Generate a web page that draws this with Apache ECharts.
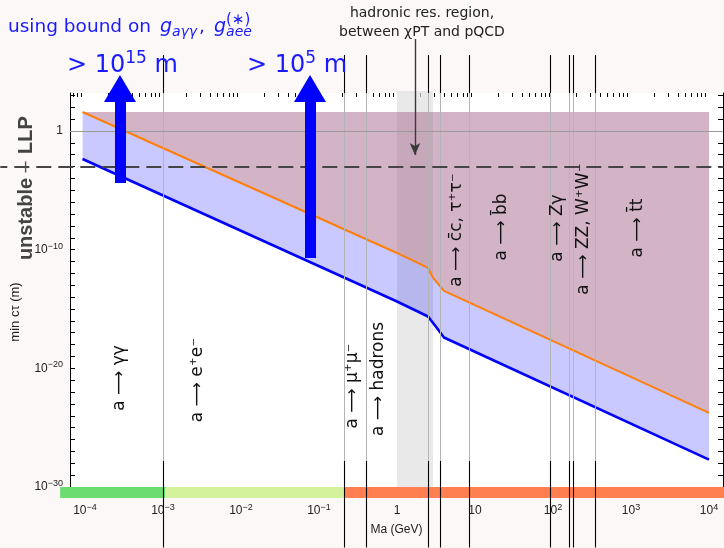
<!DOCTYPE html>
<html><head><meta charset="utf-8">
<script src="https://cdn.jsdelivr.net/npm/echarts@6/dist/echarts.min.js"></script>
<style>html,body{margin:0;padding:0;background:#fcf8f7;}#c{width:724px;height:548px;}</style>
</head><body><div id="c"></div>
<script>
// ---------------- data ----------------
const massDecades = [1e-4, 1e-3, 1e-2, 1e-1, 1, 10, 100, 1000, 1e4];
const massMinorTicks = [];
for (let k = -5; k <= 4; k++) for (let j = 2; j <= 9; j++) massMinorTicks.push(j * Math.pow(10, k));
const ctauLabelValues = [1e-30, 1e-20, 1e-10, 1];
const ctauTickValues = [];
for (let k = -30; k <= 3; k++) ctauTickValues.push(Math.pow(10, k));

// lower bound (blue) and upper bound (orange) on min c*tau (m) vs Ma (GeV)
const blueMass  = [9.3e-5, 1, 2.5, 3.16, 4.0, 1e4];
const blueCtau  = [4.37e-3, 4.27e-15, 2.34e-16, 3.16e-17, 3.98e-18, 2.0e-28];
const orangeMass = [9.3e-5, 1, 2.5, 2.9, 4.0, 1e4];
const orangeCtau = [39.8, 5.25e-11, 2.88e-12, 4.17e-13, 3.31e-14, 1.74e-24];
const bandTopCtau = 39.8;

// decay thresholds (GeV)
const thresholdMass = [1.022e-3, 0.2113, 0.405, 2.5, 3.55, 8.36, 91.19, 160.8, 182.4, 346];
const hadronicRange = [1.0, 2.9];
const llpCtau = 1e-3;
const refCtau = 1;
const regimeRanges = [[4.8e-5, 1.07e-3], [1.07e-3, 0.2113], [0.2113, 1.6e4]];
const arrowMass = [2.81e-4, 0.0767];
const arrowFromCtau = [4.13e-5, 2.0e-11];
const arrowLabels = ['> 10{p|15} m', '> 10{p|5} m'];
const hadronArrowMass = 1.70;

const decayLabels = ['a ⟶ γγ', 'a ⟶ e⁺e⁻', 'a ⟶ μ⁺μ⁻', 'a ⟶ hadrons', 'a ⟶ c̄c, τ⁺τ⁻', 'a ⟶ b̄b', 'a ⟶ Zγ', 'a ⟶ ZZ, W⁺W⁻', 'a ⟶ t̄t'];

// ---------------- layout ----------------
const W = 724, H = 548;
const G = {left: 70, right: 1, top: 93, bottom: 61};
const XE = [-4.1923, 4.1795];      // log10 mass extent of plot
const YE = [-30, 3.2];             // log10 ctau extent of plot
const pxX = (W - G.left - G.right) / (XE[1] - XE[0]);
const pxY = (H - G.top - G.bottom) / (YE[1] - YE[0]);
const OXE = [XE[0] - G.left / pxX, XE[1] + G.right / pxX];
const OYE = [YE[0] - G.bottom / pxY, YE[1] + G.top / pxY];
const P = e => Math.pow(10, e);
const ctAtY = y => P(OYE[1] - y / pxY);     // overlay ctau at a pixel row
const mAtX = x => P(OXE[0] + x / pxX);      // overlay mass at a pixel column

const colors = {
  blue: '#0000ff', orange: '#ff7f0a',
  blueFill: 'rgba(0,0,255,0.21)', orangeFill: 'rgba(232,140,92,0.34)',
  regimes: ['#6ddc70', '#d4f29b', '#ff7f50']
};
const FONT = 'DejaVu Sans';
const AFONT = 'Liberation Sans';
const BLUE_TXT = '#1a1aff';

function powLabel(v) {
  const e = Math.round(Math.log10(v));
  if (e === 0) return '1';
  if (e === 1) return '10';
  return '{b|10}{e|' + (e < 0 ? '−' : '') + Math.abs(e) + '}';
}
const axRich = {
  b: {fontSize: 12, lineHeight: 16, fontFamily: AFONT, color: '#222'},
  e: {fontSize: 9, lineHeight: 8, verticalAlign: 'top', fontFamily: AFONT, color: '#222'}
};

const chart = echarts.init(document.getElementById('c'));

const topSeg = [ctAtY(55), P(YE[1])];
const midSeg = [P(YE[1]), ctAtY(461)];
const botSeg = [ctAtY(461), ctAtY(547.5)];

const decayPos = [[120, 378], [198, 380], [353, 386], [379, 379], [457, 230], [502, 227], [558, 228], [584, 229], [638, 228]];

const option = {
  backgroundColor: '#fcf8f7',
  animation: false,
  grid: [
    {left: G.left, right: G.right, top: G.top, bottom: G.bottom, show: true, backgroundColor: '#ffffff', borderWidth: 0},
    {left: 0, right: 0, top: 0, bottom: 0}
  ],
  xAxis: [
    {gridIndex: 0, type: 'log', position: 'bottom', min: P(XE[0]), max: P(XE[1]),
     axisLine: {show: false}, axisTick: {show: false}, splitLine: {show: false},
     axisLabel: {customValues: massDecades, formatter: powLabel, rich: axRich, margin: 16,
                 fontFamily: AFONT, fontSize: 12, lineHeight: 16, color: '#222'},
     name: 'Ma (GeV)', nameLocation: 'middle', nameGap: 33,
     nameTextStyle: {fontFamily: AFONT, fontSize: 12, color: '#222'}},
    {gridIndex: 0, type: 'log', position: 'top', min: P(XE[0]), max: P(XE[1]),
     axisLine: {show: true, lineStyle: {color: '#000', width: 1}},
     axisTick: {show: true, inside: true, length: 7, customValues: massDecades, lineStyle: {color: '#000'}},
     axisLabel: {show: false}, splitLine: {show: false}},
    {gridIndex: 0, type: 'log', position: 'top', min: P(XE[0]), max: P(XE[1]),
     axisLine: {show: false},
     axisTick: {show: true, inside: true, length: 4, customValues: massMinorTicks, lineStyle: {color: '#000'}},
     axisLabel: {show: false}, splitLine: {show: false}},
    {gridIndex: 1, type: 'log', min: P(OXE[0]), max: P(OXE[1]), show: false}
  ],
  yAxis: [
    {gridIndex: 0, type: 'log', position: 'left', min: P(YE[0]), max: P(YE[1]),
     axisLine: {show: true, lineStyle: {color: '#000', width: 1}},
     axisTick: {show: true, inside: true, length: 5, customValues: ctauTickValues, lineStyle: {color: '#000'}},
     axisLabel: {customValues: ctauLabelValues, formatter: powLabel, rich: axRich, margin: 7,
                 fontFamily: AFONT, fontSize: 12, lineHeight: 16, color: '#222'},
     splitLine: {show: false}},
    {gridIndex: 0, type: 'log', position: 'right', min: P(YE[0]), max: P(YE[1]),
     axisLine: {show: true, lineStyle: {color: '#000', width: 1}},
     axisTick: {show: true, inside: true, length: 5, customValues: ctauTickValues, lineStyle: {color: '#000'}},
     axisLabel: {show: false}, splitLine: {show: false}},
    {gridIndex: 1, type: 'log', min: P(OYE[0]), max: P(OYE[1]), show: false}
  ],
  series: [
    {name: 'regimes', type: 'line', xAxisIndex: 3, yAxisIndex: 2, data: [], z: 1, silent: true,
     markArea: {silent: true, label: {show: false},
       data: regimeRanges.map((r, i) => [
         {coord: [r[0], P(YE[0])], itemStyle: {color: colors.regimes[i]}},
         {coord: [r[1], ctAtY(498)]}])}},
    {name: 'thresholdsInner', type: 'line', xAxisIndex: 3, yAxisIndex: 2, data: [], z: 1, silent: true,
     markLine: {silent: true, symbol: ['none', 'none'], label: {show: false},
       lineStyle: {color: '#b4b4b4', width: 1, type: 'solid'},
       data: thresholdMass.map(m => [{coord: [m, midSeg[0]]}, {coord: [m, midSeg[1]]}])}},
    {name: 'ref', type: 'line', xAxisIndex: 0, yAxisIndex: 0, data: [], z: 1, silent: true,
     markLine: {silent: true, symbol: ['none', 'none'], label: {show: false},
       lineStyle: {color: '#9a9a9a', width: 1, type: 'solid'}, data: [{yAxis: refCtau}]}},
    {name: 'lower', type: 'line', xAxisIndex: 0, yAxisIndex: 0, z: 2, showSymbol: false, silent: true,
     data: blueMass.map((m, i) => [m, blueCtau[i]]),
     lineStyle: {color: colors.blue, width: 2.6},
     areaStyle: {color: colors.blueFill, origin: bandTopCtau, opacity: 1}},
    {name: 'upper', type: 'line', xAxisIndex: 0, yAxisIndex: 0, z: 2, showSymbol: false, silent: true,
     data: orangeMass.map((m, i) => [m, orangeCtau[i]]),
     lineStyle: {color: colors.orange, width: 2},
     areaStyle: {color: colors.orangeFill, origin: bandTopCtau, opacity: 1}},
    {name: 'thresholdsOuter', type: 'line', xAxisIndex: 3, yAxisIndex: 2, data: [], z: 3, silent: true,
     markLine: {silent: true, symbol: ['none', 'none'], label: {show: false},
       lineStyle: {color: '#000', width: 1.1, type: 'solid'},
       data: thresholdMass.map(m => [{coord: [m, topSeg[0]]}, {coord: [m, topSeg[1]]}])
         .concat(thresholdMass.map(m => [{coord: [m, botSeg[0]]}, {coord: [m, botSeg[1]]}]))}},
    {name: 'hadronic', type: 'line', xAxisIndex: 3, yAxisIndex: 2, data: [], z: 4, silent: true,
     markArea: {silent: true, label: {show: false}, itemStyle: {color: 'rgba(224,224,224,0.7)'},
       data: [[{coord: [hadronicRange[0], ctAtY(91)]}, {coord: [hadronicRange[1], P(YE[0])]}]]}},
    {name: 'llp', type: 'line', xAxisIndex: 3, yAxisIndex: 2, data: [], z: 5, silent: true,
     markLine: {silent: true, symbol: ['none', 'none'], label: {show: false},
       lineStyle: {color: '#454545', width: 2, type: [15, 7], dashOffset: 8},
       data: [[{coord: [mAtX(0.3), llpCtau]}, {coord: [mAtX(723.7), llpCtau]}]]}},
    {name: 'arrows', type: 'line', xAxisIndex: 3, yAxisIndex: 2, data: [], z: 6, silent: true,
     markLine: {silent: true, symbol: ['none', 'none'], label: {show: false},
       data: arrowMass.map((m, i) => [
         {coord: [m, arrowFromCtau[i]], lineStyle: {color: colors.blue, width: 11, type: 'solid'}},
         {coord: [m, ctAtY(99)]}]).concat([[
         {coord: [hadronArrowMass, ctAtY(39)], symbol: 'none', lineStyle: {color: '#3a3a3a', width: 1.4, type: 'solid'}},
         {coord: [hadronArrowMass, ctAtY(155)], symbol: 'arrow', symbolSize: [8, 12]}]])},
     markPoint: {silent: true, label: {show: false},
       data: arrowMass.map(m => ({coord: [m, ctAtY(88.5)], symbol: 'triangle', symbolSize: [32, 27],
                                  itemStyle: {color: colors.blue}}))}}
  ],
  graphic: [
    {type: 'text', x: 8, y: 27, z: 100, style: {
      text: 'using bound on {g|g}{s|aγγ}{n|,}{g|g}{s|aee}', fontFamily: FONT, fontSize: 18.5, lineHeight: 24,
      fill: BLUE_TXT, verticalAlign: 'middle',
      rich: {g: {fontStyle: 'italic', fontSize: 19, lineHeight: 24, fontFamily: FONT, fill: BLUE_TXT, padding: [0, 0, 0, 3]},
             n: {fontSize: 18.5, lineHeight: 24, fontFamily: FONT, fill: BLUE_TXT, padding: [0, 6, 0, 2]},
             s: {fontStyle: 'italic', fontSize: 14, lineHeight: 14, verticalAlign: 'bottom', fontFamily: FONT, fill: BLUE_TXT}}}},
    {type: 'text', x: 226, y: 20, z: 100, style: {text: '(∗)', fontFamily: FONT, fontSize: 15, fill: BLUE_TXT, verticalAlign: 'middle'}},
    {type: 'text', x: 67, y: 66, z: 100, style: {
      text: arrowLabels[0], fontFamily: FONT, fontSize: 24, lineHeight: 32, fill: BLUE_TXT, verticalAlign: 'middle',
      rich: {p: {fontSize: 17, lineHeight: 18, verticalAlign: 'top', fontFamily: FONT, fill: BLUE_TXT}}}},
    {type: 'text', x: 247, y: 66, z: 100, style: {
      text: arrowLabels[1], fontFamily: FONT, fontSize: 24, lineHeight: 32, fill: BLUE_TXT, verticalAlign: 'middle',
      rich: {p: {fontSize: 17, lineHeight: 18, verticalAlign: 'top', fontFamily: FONT, fill: BLUE_TXT}}}},
    {type: 'text', x: 422, y: 13, z: 100, style: {text: 'hadronic res. region,', fontFamily: FONT, fontSize: 14, fill: '#222', align: 'center', verticalAlign: 'middle'}},
    {type: 'text', x: 422, y: 32, z: 100, style: {text: 'between χPT and pQCD', fontFamily: FONT, fontSize: 14, fill: '#222', align: 'center', verticalAlign: 'middle'}},
    {type: 'text', x: 26, y: 135, rotation: Math.PI / 2, z: 100, style: {text: 'LLP', fontFamily: AFONT, fontWeight: 'bold', fontSize: 20, fill: '#444', align: 'center', verticalAlign: 'middle'}},
    {type: 'text', x: 25, y: 167, rotation: Math.PI / 2, z: 100, style: {text: '–', fontFamily: AFONT, fontSize: 20, fill: '#555', align: 'center', verticalAlign: 'middle'}},
    {type: 'text', x: 26, y: 219, rotation: Math.PI / 2, z: 100, style: {text: 'unstable', fontFamily: AFONT, fontWeight: 'bold', fontSize: 20, fill: '#444', align: 'center', verticalAlign: 'middle'}},
    {type: 'text', x: 15, y: 312, rotation: Math.PI / 2, z: 100, style: {text: 'min cτ (m)', fontFamily: AFONT, fontSize: 13, fill: '#222', align: 'center', verticalAlign: 'middle'}}
  ].concat(decayLabels.map((t, i) => ({
    type: 'text', x: decayPos[i][0], y: decayPos[i][1], rotation: Math.PI / 2, z: 100,
    style: {text: t, fontFamily: FONT, fontSize: 17, fill: '#111', align: 'center', verticalAlign: 'middle'}})))
};
chart.setOption(option);
</script></body></html>
